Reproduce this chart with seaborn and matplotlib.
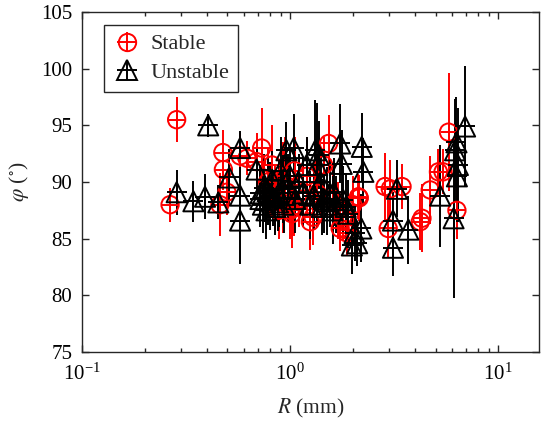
import numpy as np
import pandas as pd
import matplotlib
matplotlib.use("Agg")
import matplotlib.pyplot as plt
from matplotlib.lines import Line2D
from matplotlib.ticker import LogLocator, FixedLocator
import seaborn as sns

# ---------------- data ----------------
stable_R = [0.265, 0.285, 0.475, 0.478, 0.497, 0.575, 0.62, 0.69, 0.73, 0.46,
            0.78, 0.82, 0.85, 0.88, 0.92, 0.95, 1.00, 1.02, 1.05, 1.10,
            1.15, 1.20, 1.29, 1.35, 1.45, 1.53, 1.60, 1.70, 1.79, 1.87,
            2.00, 2.13, 2.86, 2.96, 3.03, 3.45, 4.22, 4.30, 4.71, 5.16,
            5.43, 5.77, 6.33, 1.04, 1.25, 1.74, 1.88, 2.15]
stable_phi = [88.0, 95.5, 92.6, 91.1, 89.1, 92.3, 92.1, 91.8, 93.0, 88.0,
              90.0, 91.5, 88.5, 87.5, 89.5, 90.5, 87.5, 87.2, 91.0, 89.0,
              88.5, 90.5, 86.9, 89.0, 91.5, 93.4, 88.5, 87.5, 86.9, 85.8,
              88.0, 88.7, 89.6, 85.9, 89.4, 89.6, 86.5, 86.8, 89.3, 90.9,
              90.9, 94.4, 87.5, 87.7, 86.5, 85.9, 85.5, 88.6]
stable_err = [1.5, 2.0, 2.0, 1.8, 2.0, 2.0, 1.5, 2.5, 3.5, 2.8,
              3.0, 3.5, 3.0, 2.5, 4.0, 3.5, 2.5, 3.0, 3.0, 3.0,
              2.5, 3.5, 2.5, 3.0, 2.5, 2.5, 3.0, 2.5, 2.0, 2.0,
              2.5, 2.0, 3.0, 2.5, 2.5, 2.0, 2.5, 3.0, 3.0, 2.0,
              2.0, 5.2, 2.5, 2.5, 2.5, 2.0, 2.0, 2.0]

unstable_R = [0.285, 0.343, 0.39, 0.404, 0.452, 0.51, 0.575, 0.575, 0.575, 0.69,
              0.72, 0.75, 0.77, 0.80, 0.82, 0.85, 0.88, 0.90, 0.93, 0.96,
              0.98, 1.00, 1.04, 1.06, 1.10, 1.15, 1.20, 1.25, 1.32, 1.37,
              1.40, 1.45, 1.35, 1.55, 1.60, 1.74, 1.77, 1.80, 1.85, 1.90,
              2.04, 1.98, 2.10, 2.21, 2.25, 2.20, 3.12, 3.12, 3.26, 3.70,
              5.26, 6.10, 6.20, 6.33, 6.40, 6.93, 6.30,
              0.72, 0.74, 0.78, 0.83, 0.87, 0.92, 1.30, 1.42, 1.50, 1.62, 1.66]
unstable_phi = [89.1, 88.3, 88.7, 95.0, 88.2, 90.4, 93.0, 88.8, 86.6, 91.1,
                88.5, 89.5, 87.5, 88.8, 90.2, 87.8, 89.0, 91.0, 88.0, 92.8,
                89.5, 90.5, 93.0, 88.5, 90.0, 89.0, 91.5, 88.0, 92.8, 92.4,
                90.0, 88.5, 91.5, 89.0, 87.5, 93.4, 91.6, 88.4, 87.8, 87.2,
                85.5, 84.4, 84.6, 93.1, 90.9, 85.9, 86.6, 84.2, 89.4, 85.8,
                88.8, 86.8, 92.8, 90.5, 91.5, 94.9, 93.5,
                89.0, 88.0, 89.2, 88.6, 88.2, 89.4, 88.8, 87.8, 88.3, 89.1, 88.0]
unstable_err = [2.0, 1.8, 2.0, 1.0, 1.5, 2.5, 1.5, 2.5, 3.8, 2.0,
                2.5, 3.0, 2.5, 3.0, 2.5, 2.5, 3.0, 3.0, 2.5, 2.5,
                3.0, 2.5, 3.0, 3.0, 2.5, 3.0, 2.5, 3.0, 4.4, 3.0,
                3.0, 3.0, 5.5, 3.0, 3.0, 3.5, 3.0, 3.0, 3.0, 3.0,
                2.5, 2.5, 2.0, 3.0, 3.0, 3.0, 2.5, 2.5, 2.5, 3.0,
                4.5, 7.0, 4.5, 4.0, 5.0, 5.3, 4.0,
                2.5, 2.5, 3.0, 2.5, 2.5, 3.0, 3.0, 2.5, 3.0, 3.0, 2.5]

x_ticks = [0.1, 1, 10]
y_ticks = [75, 80, 85, 90, 95, 100, 105]
series_labels = ["Stable", "Unstable"]

stable = pd.DataFrame({"R": stable_R, "phi": stable_phi, "err": stable_err})
unstable = pd.DataFrame({"R": unstable_R, "phi": unstable_phi, "err": unstable_err})

# ---------------- style ----------------
sns.set_style("ticks")
plt.rcParams["font.family"] = ["Liberation Serif", "DejaVu Serif"]
plt.rcParams["mathtext.fontset"] = "stix"
plt.rcParams["xtick.direction"] = "in"
plt.rcParams["ytick.direction"] = "in"

EDGE = "#262626"
RED = "#ff0000"
BLK = "#000000"
LW = 1.4

fig = plt.figure(figsize=(5.48, 4.30), dpi=100)
ax = fig.add_axes([0.1496, 0.1814, 0.8340, 0.7906])

def draw(df, color, marker, ms):
    ax.errorbar(df["R"], df["phi"], yerr=df["err"], fmt="none",
                ecolor=color, elinewidth=LW, capsize=0, zorder=2)
    sns.scatterplot(data=df, x="R", y="phi", marker=marker, s=ms ** 2,
                    facecolors="none", edgecolors=color, linewidths=LW,
                    ax=ax, zorder=3, legend=False)
    sns.scatterplot(data=df, x="R", y="phi", marker="+", s=(ms * 0.95) ** 2,
                    color=color, linewidths=LW, ax=ax, zorder=3, legend=False)

draw(stable, RED, "o", 12.5)
draw(unstable, BLK, "^", 14.5)

ax.set_xscale("log")
ax.set_xlim(0.1, 15.7)
ax.set_ylim(75, 105)
ax.xaxis.set_major_locator(FixedLocator(x_ticks))
ax.xaxis.set_minor_locator(LogLocator(base=10, subs=np.arange(2, 10), numticks=20))
ax.yaxis.set_major_locator(FixedLocator(y_ticks))

ax.tick_params(which="both", top=True, right=True, direction="in",
               color=EDGE, labelsize=15, labelcolor="black", width=1.0)
ax.tick_params(which="major", length=5)
ax.tick_params(axis="x", which="major", pad=8)
ax.tick_params(axis="y", which="major", pad=7)
ax.tick_params(which="minor", length=3)
for sp in ax.spines.values():
    sp.set_color(EDGE)
    sp.set_linewidth(1.0)

ax.set_xlabel(r"$R$ (mm)", fontsize=15.5, labelpad=9)
ax.set_ylabel(r"$\varphi$ ($^{\circ}$)", fontsize=15.5, labelpad=7)

h_st = (Line2D([], [], ls="none", marker="o", ms=12.5, mfc="none", mec=RED, mew=LW),
        Line2D([], [], ls="none", marker="+", ms=15, mec=RED, mew=LW))
h_un = (Line2D([], [], ls="none", marker="^", ms=14.5, mfc="none", mec=BLK, mew=LW),
        Line2D([], [], ls="none", marker="+", ms=15, mec=BLK, mew=LW))
leg = ax.legend([h_st, h_un], series_labels, loc="upper left",
                bbox_to_anchor=(0.048, 0.962), borderaxespad=0,
                fontsize=16, frameon=True, fancybox=False, framealpha=1,
                edgecolor=EDGE, handlelength=1.3, handletextpad=0.4,
                borderpad=0.4, labelspacing=0.35)
leg.get_frame().set_linewidth(1.0)

fig.savefig("out.png", dpi=100)
